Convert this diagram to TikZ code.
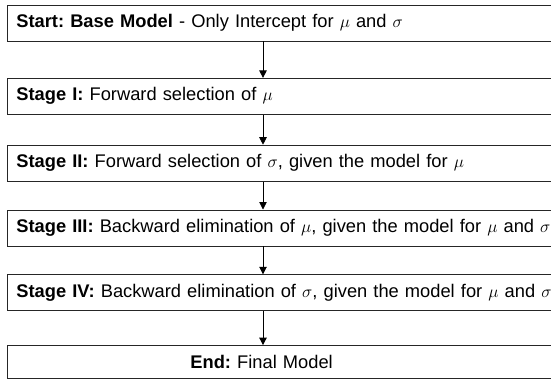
\documentclass[tikz,border=0pt]{standalone}
\usepackage{fontspec}
\setmainfont{Liberation Sans}
\usetikzlibrary{positioning,arrows.meta}
\frenchspacing

\begin{document}
\begin{tikzpicture}[
    node distance=30pt,
    stagebox/.style={rectangle, draw=black!85, line width=0.8pt, minimum height=36pt, text width=536pt, inner xsep=8.7pt, inner ysep=0pt, align=left, anchor=north west, font=\fontsize{18.3}{21}\selectfont},
    arrow/.style={-{Triangle[length=7.5pt,width=7.5pt]}, line width=0.8pt}
]
\useasboundingbox (0,0) rectangle (551pt,-378pt);
\coordinate (axis) at (263pt,0);

% Stages
\node[stagebox] (start) at (7.3pt,-4.5pt) {\textbf{Start: Base Model} - Only Intercept for $\mu$ and $\sigma$};
\node[stagebox, below=36.6pt of start] (stagei) {\textbf{Stage I:} Forward selection of $\mu$};
\node[stagebox, below=30pt of stagei] (stageii) {\textbf{Stage II:} Forward selection of $\sigma$, given the model for $\mu$};
\node[stagebox, below=28pt of stageii] (stageiii) {\textbf{Stage III:} Backward elimination of $\mu$, given the model for $\mu$ and $\sigma$};
\node[stagebox, below=28pt of stageiii] (stageiv) {\textbf{Stage IV:} Backward elimination of $\sigma$, given the model for $\mu$ and $\sigma$};

% End
\node[stagebox, minimum height=33pt, below=34pt of stageiv] (final) {\hspace*{174pt}\textbf{End:} Final Model};

% Arrows
\draw[arrow] (start.south -| axis) -- (stagei.north -| axis);
\draw[arrow] (stagei.south -| axis) -- (stageii.north -| axis);
\draw[arrow] (stageii.south -| axis) -- (stageiii.north -| axis);
\draw[arrow] (stageiii.south -| axis) -- (stageiv.north -| axis);
\draw[arrow] (stageiv.south -| axis) -- (final.north -| axis);
\end{tikzpicture}
\end{document}
